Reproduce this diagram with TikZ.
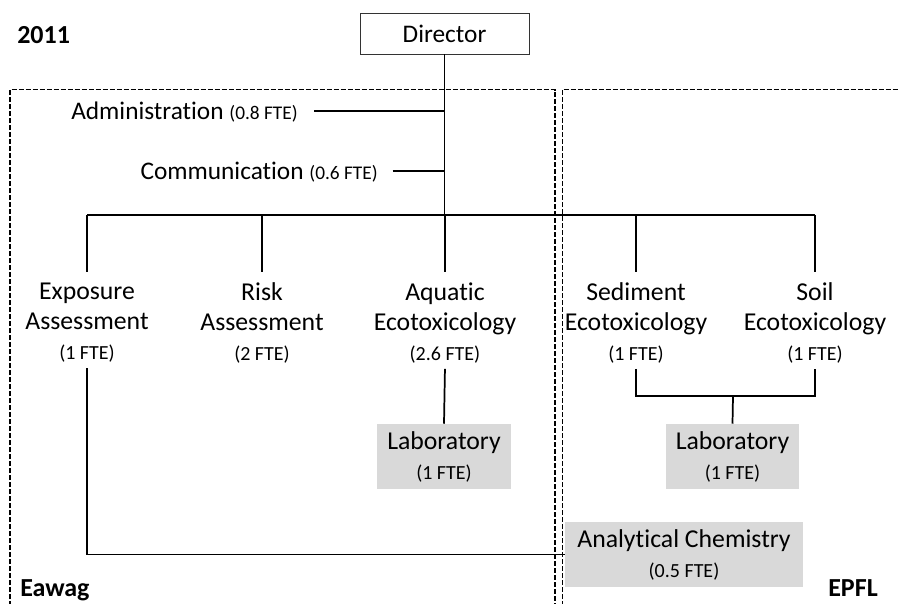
\documentclass[tikz,border=0pt]{standalone}
\usepackage{fontspec}
\setmainfont[Ligatures=NoCommon]{Carlito}
\usetikzlibrary{positioning}

\tikzset{
  unit/.style={align=center,inner sep=2pt,font=\fontsize{19.3}{22.5}\selectfont},
  labbox/.style={unit,fill=gray!30,minimum height=48.75pt},
  conn/.style={line width=1.3pt},
  site/.style={dash pattern=on 3.75pt off 1.5pt,line width=0.9pt},
  sitename/.style={font=\bfseries\fontsize{19.5}{22}\selectfont,inner sep=0pt}
}
\newcommand{\fte}[1]{{\fontsize{15}{19}\selectfont(#1 FTE)}}

\begin{document}
\begin{tikzpicture}[x=0.75pt,y=-0.75pt]
\useasboundingbox (0,0) rectangle (899,603);
\clip (0,0) rectangle (899,603);

% Eawag and EPFL
\draw[site] (10,620) -- (10,89.5) -- (555,89.5) -- (555,620);
\draw[site,line width=0.7pt] (562,620) -- (562,89.5) -- (920,89.5);
\node[sitename,anchor=west] (year) at (17,35) {2011};
\node[sitename,anchor=west] (eawag) at (20,590) {Eawag};
\node[sitename,anchor=east] (epfl) at (878,588) {EPFL};

% head
\node[draw=black!80,line width=0.6pt,minimum width=126.75pt,minimum height=30.75pt,
      font=\fontsize{19}{21}\selectfont] (director) at (444.5,33.5) {Director};
\node[anchor=base east,inner sep=0pt,font=\fontsize{19}{21}\selectfont] (admin) at (298,119)
  {Administration \fontsize{14.5}{18}\selectfont(0.8 FTE)};
\node[anchor=base east,inner sep=0pt,font=\fontsize{19}{21}\selectfont] (comm) at (378,179)
  {Communication \fontsize{14.5}{18}\selectfont(0.6 FTE)};
\coordinate (busL) at (87,215);
\coordinate (busR) at (815,215);

% groups
\node[unit] (exp)  at (87,323)  {Exposure\\Assessment\\\fte{1}};
\node[unit] (risk) at (262,323) {Risk\\Assessment\\\fte{2}};
\node[unit] (aqu)  at (445,323) {Aquatic\\Ecotoxicology\\\fte{2.6}};
\node[unit] (sed)  at (636,323) {Sediment\\Ecotoxicology\\\fte{1}};
\node[unit] (soil) at (815,323) {Soil\\Ecotoxicology\\\fte{1}};

\node[labbox,minimum width=100.5pt] (lab1) at (444,456.5) {Laboratory\\\fte{1}};
\node[labbox,minimum width=99.75pt] (lab2) at (732.5,456.5) {Laboratory\\\fte{1}};
\node[labbox,minimum width=178.5pt] (chem) at (684,554.5) {Analytical Chemistry\\\fte{0.5}};
\coordinate (join) at (733,396);

% lines
\draw[conn] (director) -- (director |- busL);
\draw[conn] (busL) -- (busR);
\draw[conn,shorten <=12pt] (admin.east |- 0,111) -- (director |- 0,111);
\draw[conn,shorten <=11pt] (comm.east |- 0,171) -- (director |- 0,171);
\foreach \n in {exp,risk,aqu,sed,soil}
  \draw[conn,shorten >=6pt] (\n |- busL) -- (\n.north);
\draw[conn,shorten <=2pt] (aqu.south) -- (lab1.north);
\draw[conn,shorten <=2pt,shorten >=2pt] (sed.south) |- (join) -| (soil.south);
\draw[conn] (join) -- (lab2.north);
\draw[line width=0.9pt,shorten <=2pt] (exp.south) |- (chem.west);
\end{tikzpicture}
\end{document}
